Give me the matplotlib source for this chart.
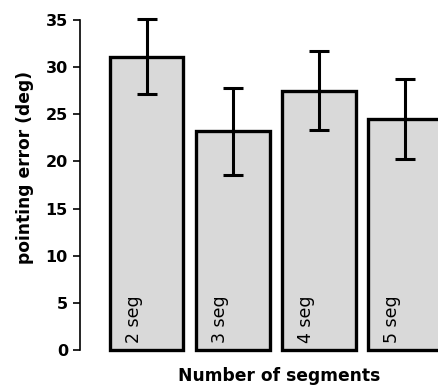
import matplotlib
matplotlib.use("Agg")
import matplotlib.pyplot as plt
import numpy as np

plt.rcParams['font.family'] = ['DejaVu Sans']

categories = ["2 seg", "3 seg", "4 seg", "5 seg"]
means = [31.1, 23.2, 27.5, 24.5]
errors = [4.0, 4.6, 4.2, 4.2]
yticks = [0, 5, 10, 15, 20, 25, 30, 35]

fig = plt.figure(figsize=(4.39, 3.86), dpi=100)
ax = fig.add_axes([80/439, 1-350/386, 1-80/439, 330/386])

x = np.arange(len(categories))
ax.bar(x, means, width=0.86, color='#d9d9d9', edgecolor='black',
       linewidth=2.4, clip_on=False, zorder=2)
ax.errorbar(x, means, yerr=errors, fmt='none', ecolor='black',
            elinewidth=2.2, capsize=7.5, capthick=2.2, zorder=3, clip_on=False)

for xi, lab in zip(x, categories):
    ax.text(xi - 0.15, 0.74, lab, rotation=90, ha='center', va='bottom',
            fontsize=12.5, color='black', zorder=4)

ax.set_xlim(-0.773, 3.40)
ax.set_ylim(0, 35)
ax.set_yticks(yticks)
ax.set_yticklabels([str(t) for t in yticks], fontweight='bold', fontsize=11.5)
ax.set_xticks([])

for s in ['top', 'right', 'bottom']:
    ax.spines[s].set_visible(False)
ax.spines['left'].set_linewidth(1.2)
ax.tick_params(axis='y', direction='out', length=5.2, width=1.2, pad=3.5)

fig.text(25/439, 1-167.5/386, "pointing error (deg)", rotation=90,
         ha='center', va='center', fontweight='bold', fontsize=12.3)
fig.text(279/439, 1-376/386, "Number of segments", ha='center', va='center',
         fontweight='bold', fontsize=12.3)

fig.savefig("out.png", dpi=100)
